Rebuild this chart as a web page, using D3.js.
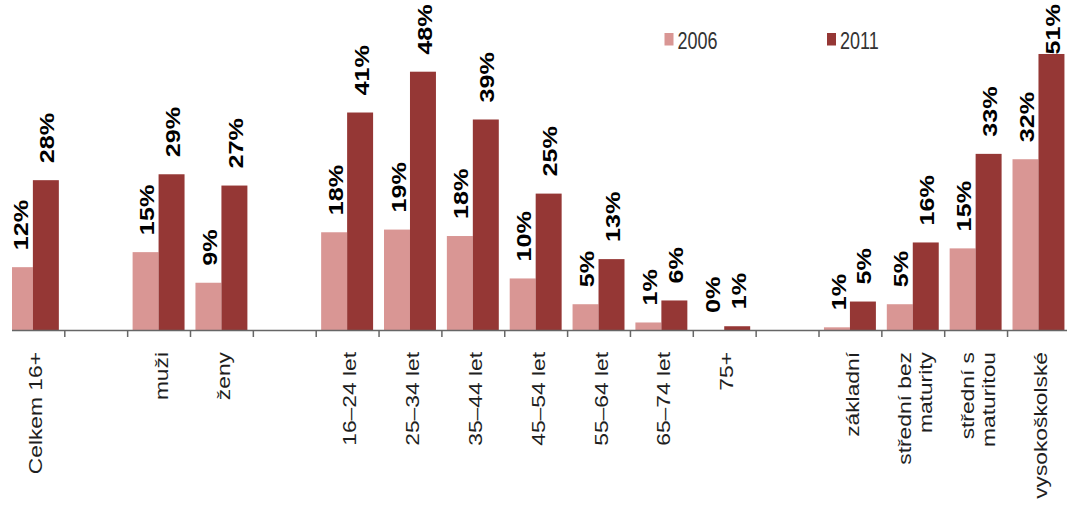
<!DOCTYPE html>
<html lang="cs">
<head>
  <meta charset="UTF-8" />
  <title>2006 / 2011</title>
  <style>
    body {
      margin: 0;
      background: #fff;
      font-family: "Liberation Sans", Arial, sans-serif;
    }
    svg { display: block; }
    .val { font-weight: bold; font-size: 21px; fill: #000; }
    .cat { font-size: 19px; fill: #1e1e1e; }
    .legend text { font-size: 24px; fill: #333; }
  </style>
</head>
<body>
  <svg width="1067" height="507"></svg>

  <script src="https://d3js.org/d3.v7.min.js"></script>
  <script>
    // data (percent)
    const categories = ["Celkem 16+", "", "muži", "ženy", "", "16–24 let", "25–34 let", "35–44 let",
      "45–54 let", "55–64 let", "65–74 let", "75+", "", "základní", "střední bez\nmaturity",
      "střední s\nmaturitou", "vysokoškolské"];
    const years = ["2006", "2011"];
    const values2006 = [11.7, null, 14.5, 8.8, null, 18.2, 18.7, 17.5, 9.6, 4.8, 1.4, 0, null, 0.5, 4.8, 15.2, 31.8];
    const values2011 = [27.9, null, 29.0, 26.9, null, 40.5, 48.1, 39.2, 25.4, 13.2, 5.5, 0.7, null, 5.3, 16.3, 32.8, 51.4];
    const colors = ["#d99694", "#953735"];

    const width = 1067, height = 507;
    const baseY = 330;
    const stretch = 1.2;   // text in the source is a bit taller than wide

    const svg = d3.select("svg");

    const x0 = d3.scaleBand()
      .domain(d3.range(categories.length))
      .range([1.45, 1069.9])
      .padding(0);

    const x1 = d3.scaleBand()
      .domain(years)
      .range([0, x0.bandwidth()])
      .paddingInner(0)
      .paddingOuter(0.21);

    const y = d3.scaleLinear()
      .domain([0, 60])
      .range([baseY, baseY - 60 * 5.37]);

    svg.append("defs").append("clipPath").attr("id", "plot")
      .append("rect").attr("x", 12).attr("y", 0).attr("width", width - 12).attr("height", height);

    const rows = categories.map((c, i) => ({ i, vals: [values2006[i], values2011[i]] }));

    const plot = svg.append("g").attr("clip-path", "url(#plot)");

    // bars
    const groups = plot.selectAll("g.grp")
      .data(rows.filter(r => r.vals[0] !== null))
      .join("g")
      .attr("class", "grp")
      .attr("transform", d => `translate(${x0(d.i)},0)`);

    groups.selectAll("rect")
      .data(d => d.vals.map((v, k) => ({ v, k })))
      .join("rect")
      .attr("x", d => x1(years[d.k]))
      .attr("width", x1.bandwidth())
      .attr("y", d => y(d.v))
      .attr("height", d => baseY - y(d.v))
      .attr("fill", d => colors[d.k]);

    // axis with ticks at category boundaries
    const xb = d3.scaleLinear().domain([0, categories.length]).range(x0.range());
    plot.append("g")
      .attr("transform", `translate(0,${baseY})`)
      .call(d3.axisBottom(xb)
        .tickValues(d3.range(1, categories.length))
        .tickFormat("")
        .tickSize(7)
        .tickSizeOuter(0))
      .call(g => g.selectAll("path, line").attr("stroke", "#666").attr("stroke-width", 1.5));

    // value labels (pushed down onto the bar when they would leave the top)
    const vlab = svg.append("g");
    rows.filter(r => r.vals[0] !== null).forEach(r => {
      r.vals.forEach((v, k) => {
        const cx = x0(r.i) + x1(years[k]) + x1.bandwidth() / 2;
        const t = vlab.append("text")
          .attr("class", "val")
          .attr("dy", "0.36em")
          .attr("text-anchor", "start")
          .text(Math.round(v) + "%");
        const len = t.node().getComputedTextLength() * stretch;
        const py = Math.max(y(v) - 17, len + 4);
        t.attr("transform", `translate(${cx + 1},${py}) rotate(-90) scale(${stretch},1)`);
      });
    });

    // category labels
    const clab = svg.append("g");
    categories.forEach((c, i) => {
      if (!c) return;
      const lines = c.split("\n");
      const cx = x0(i) + x0.bandwidth() / 2;
      lines.forEach((ln, j) => {
        const bx = cx + 9 + (j - (lines.length - 1) / 2) * 21;
        clab.append("text")
          .attr("class", "cat")
          .attr("transform", `translate(${bx},352) rotate(-90) scale(${stretch},1)`)
          .attr("text-anchor", "end")
          .text(ln);
      });
    });

    // legend
    const legendPos = [[664.5, 33], [827, 33]];
    const legend = svg.append("g").attr("class", "legend");
    years.forEach((yr, k) => {
      const [lx, ly] = legendPos[k];
      legend.append("rect")
        .attr("x", lx).attr("y", ly)
        .attr("width", 9).attr("height", 12.5)
        .attr("fill", colors[k]);
      legend.append("text")
        .attr("transform", `translate(${lx + 13},${ly + 16}) scale(0.75,1)`)
        .text(yr);
    });
  </script>
</body>
</html>
